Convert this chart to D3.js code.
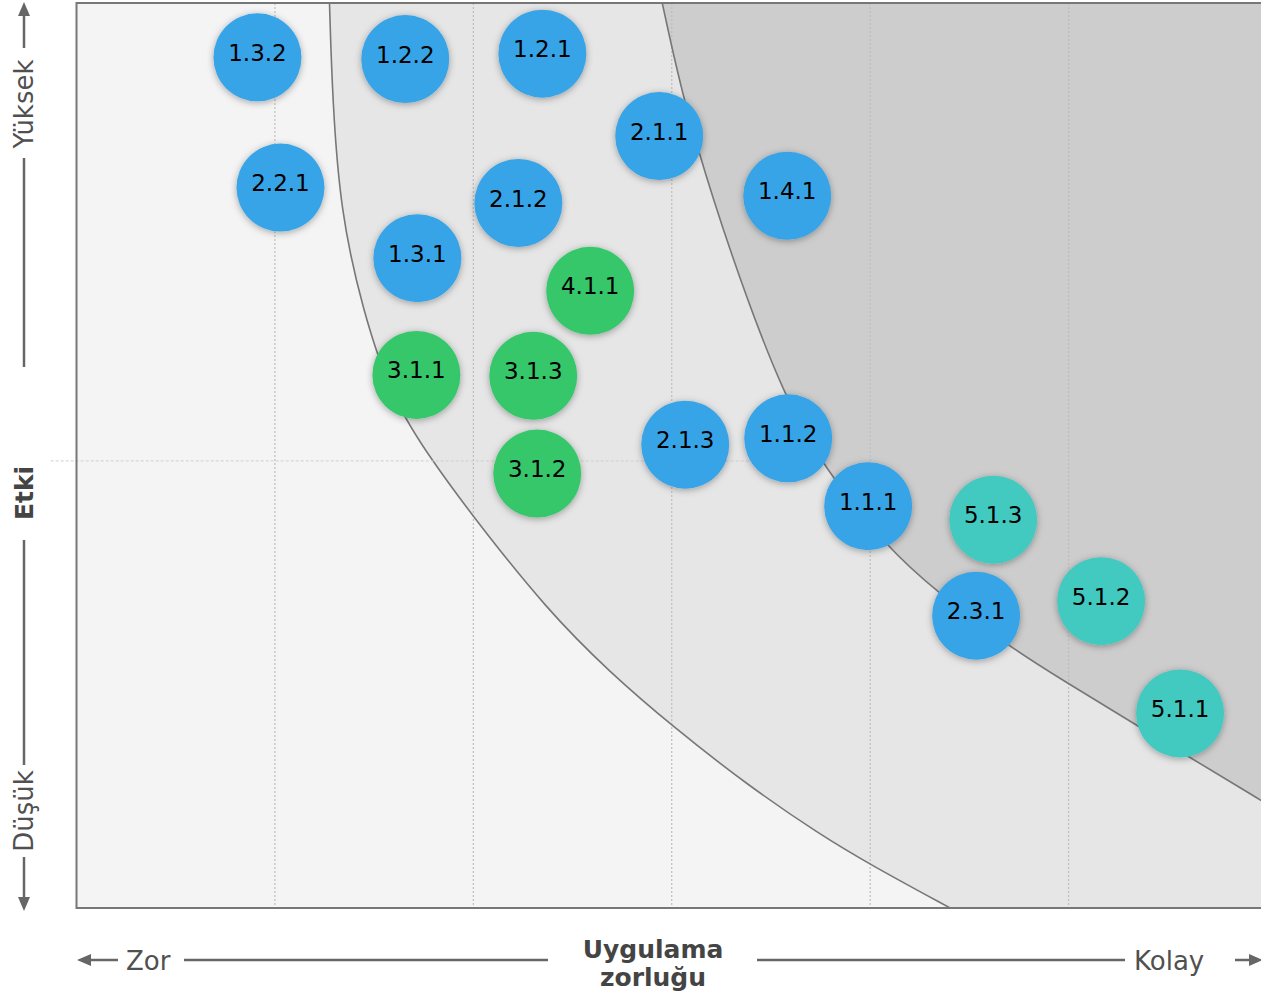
<!DOCTYPE html>
<html>
<head>
<meta charset="utf-8">
<script src="https://cdn.jsdelivr.net/npm/d3@7"></script>
<style>
  html, body { margin: 0; padding: 0; background: #fff; }
  svg { display: block; }
  text { font-family: "DejaVu Sans", Verdana, sans-serif; }
</style>
</head>
<body>
<svg id="chart" width="1261" height="997"></svg>
<script>
// ---------- DATA ----------
const labels = ["1.3.2","1.2.2","1.2.1","2.1.1","1.4.1","2.2.1","2.1.2","1.3.1","4.1.1","3.1.1","3.1.3","3.1.2","2.1.3","1.1.2","1.1.1","5.1.3","2.3.1","5.1.2","5.1.1"];
const xValues = [0.912,1.657,2.348,2.937,3.582,1.028,2.227,1.718,2.589,1.713,2.302,2.322,3.068,3.587,3.990,4.620,4.534,5.164,5.562];
const yValues = [9.40,9.38,9.44,8.53,7.87,7.96,7.79,7.18,6.82,5.89,5.88,4.80,5.12,5.19,4.44,4.29,3.23,3.39,2.15];
const groups  = ["1","1","1","2","1","2","2","1","4","3","3","3","2","1","1","5","2","5","5"];
const groupColors = {"1":"#37a4e8","2":"#37a4e8","3":"#36c76b","4":"#36c76b","5":"#43c9c0"};

const innerCurveX = [1.275,1.290,1.330,1.440,1.590,1.793,2.000,2.373,2.690,2.997,3.380,3.748,4.000,4.403];
const innerCurveY = [10.0,8.93,7.70,6.62,5.62,4.94,4.32,3.29,2.60,2.02,1.36,0.81,0.48,0.00];
const outerCurveX = [2.952,3.058,3.209,3.380,3.562,3.763,4.086,4.338,4.705,4.992,5.259,5.970,6.050];
const outerCurveY = [10.0,8.93,7.82,6.72,5.69,4.87,3.98,3.49,2.88,2.49,2.13,1.19,1.08];

const gridTicks = [1,2,3,4,5];
const midLineY = 4.94;
const midLineExtent = [-0.13, 5.86];

const yAxisTop = "Yüksek", yAxisTitle = "Etki", yAxisBottom = "Düşük";
const xAxisLeft = "Zor", xAxisTitle = ["Uygulama","zorluğu"], xAxisRight = "Kolay";

// ---------- LAYOUT ----------
const svg = d3.select("#chart");
const x = d3.scaleLinear().domain([0, 6]).range([76.5, 1267]);
const y = d3.scaleLinear().domain([0, 10]).range([908, 3]);
const R = 44;

const defs = svg.append("defs");
defs.append("clipPath").attr("id","plotClip").append("rect")
  .attr("x", x(0)).attr("y", y(10)).attr("width", x(6)-x(0)).attr("height", y(0)-y(10));
const f = defs.append("filter").attr("id","shadow").attr("x","-30%").attr("y","-30%").attr("width","160%").attr("height","160%");
f.append("feDropShadow").attr("dx",0).attr("dy",1.5).attr("stdDeviation",3.5)
  .attr("flood-color","#000").attr("flood-opacity",0.33);

const plot = svg.append("g").attr("clip-path","url(#plotClip)");

// background
plot.append("rect").attr("x", x(0)).attr("y", y(10)).attr("width", x(6)-x(0)).attr("height", y(0)-y(10))
  .attr("fill","#f4f4f4");

const line = d3.line().x(d => x(d[0])).y(d => y(d[1])).curve(d3.curveBasis);
const innerPts = innerCurveX.map((v,i)=>[v, innerCurveY[i]]);
const outerPts = outerCurveX.map((v,i)=>[v, outerCurveY[i]]);

plot.append("path")
  .attr("d", line(innerPts) + `L${x(6.2)},${y(0)}L${x(6.2)},${y(10.2)}L${x(innerCurveX[0])},${y(10.2)}Z`)
  .attr("fill","#e6e6e6");
plot.append("path")
  .attr("d", line(outerPts) + `L${x(6.2)},${y(0.9)}L${x(6.2)},${y(10.2)}L${x(outerCurveX[0])},${y(10.2)}Z`)
  .attr("fill","#cdcdcd");

// grid
plot.selectAll(".vgrid").data(gridTicks).enter().append("line")
  .attr("x1", d=>x(d)).attr("x2", d=>x(d)).attr("y1", y(10)).attr("y2", y(0))
  .attr("stroke","#bdbdbd").attr("stroke-width",1.2).attr("stroke-dasharray","2,2");

// curves
plot.append("path").attr("d", line(innerPts)).attr("fill","none").attr("stroke","#777").attr("stroke-width",1.6);
plot.append("path").attr("d", line(outerPts)).attr("fill","none").attr("stroke","#777").attr("stroke-width",1.6);

// mid line (extends outside plot)
svg.append("line")
  .attr("x1", x(midLineExtent[0])).attr("x2", x(midLineExtent[1]))
  .attr("y1", y(midLineY)).attr("y2", y(midLineY))
  .attr("stroke","#cfcfcf").attr("stroke-width",1).attr("stroke-dasharray","3,2");

// border
svg.append("path")
  .attr("d", `M${x(6.2)},${y(10)}L${x(0)},${y(10)}L${x(0)},${y(0)}L${x(6.2)},${y(0)}`)
  .attr("fill","none").attr("stroke","#777").attr("stroke-width",2);

// bubbles
const bubbles = labels.map((l,i)=>({label:l, x:xValues[i], y:yValues[i], g:groups[i]}));
const bg = svg.append("g").selectAll("g").data(bubbles).enter().append("g")
  .attr("transform", d=>`translate(${x(d.x)},${y(d.y)})`);
bg.append("circle").attr("r", R).attr("fill", d=>groupColors[d.g]).attr("filter","url(#shadow)");
bg.append("text").attr("text-anchor","middle").attr("y", 3.5)
  .attr("font-size", 23).attr("fill","#000").text(d=>d.label);

// ---------- AXIS DECORATIONS ----------
const axCol = "#666", txtCol = "#505050";
// vertical (left)
const ax = 24;
const vg = svg.append("g");
vg.append("path").attr("d", `M${ax},2L${ax-6},16L${ax+6},16Z`).attr("fill", axCol);
vg.append("path").attr("d", `M${ax},911L${ax-6},897L${ax+6},897Z`).attr("fill", axCol);
[[15,48],[158,367],[540,765],[857,898]].forEach(s=>{
  vg.append("line").attr("x1",ax).attr("x2",ax).attr("y1",s[0]).attr("y2",s[1]).attr("stroke",axCol).attr("stroke-width",2.5);
});
function vtext(t, cy, bold){
  vg.append("text").attr("transform", `translate(${ax+9},${cy}) rotate(-90)`)
    .attr("text-anchor","middle").attr("font-size", bold?25:26).attr("font-weight", bold?"bold":"normal")
    .attr("fill", bold?"#444":txtCol).text(t);
}
vtext(yAxisTop, 104, false);
vtext(yAxisTitle, 493, true);
vtext(yAxisBottom, 811, false);

// horizontal (bottom)
const ay = 960;
const hg = svg.append("g");
hg.append("path").attr("d", `M77,${ay}L91,${ay-6}L91,${ay+6}Z`).attr("fill", axCol);
hg.append("path").attr("d", `M1263,${ay}L1249,${ay-6}L1249,${ay+6}Z`).attr("fill", axCol);
[[90,118],[184,548],[757,1125],[1235,1250]].forEach(s=>{
  hg.append("line").attr("x1",s[0]).attr("x2",s[1]).attr("y1",ay).attr("y2",ay).attr("stroke",axCol).attr("stroke-width",2.5);
});
hg.append("text").attr("x",126).attr("y",ay+10).attr("font-size",26).attr("fill",txtCol).text(xAxisLeft);
hg.append("text").attr("x",1134).attr("y",ay+10).attr("font-size",26).attr("fill",txtCol).text(xAxisRight);
hg.append("text").attr("x",653).attr("y",958).attr("text-anchor","middle").attr("font-size",25).attr("font-weight","bold").attr("fill","#444").text(xAxisTitle[0]);
hg.append("text").attr("x",653).attr("y",986).attr("text-anchor","middle").attr("font-size",25).attr("font-weight","bold").attr("fill","#444").text(xAxisTitle[1]);
</script>
</body>
</html>
